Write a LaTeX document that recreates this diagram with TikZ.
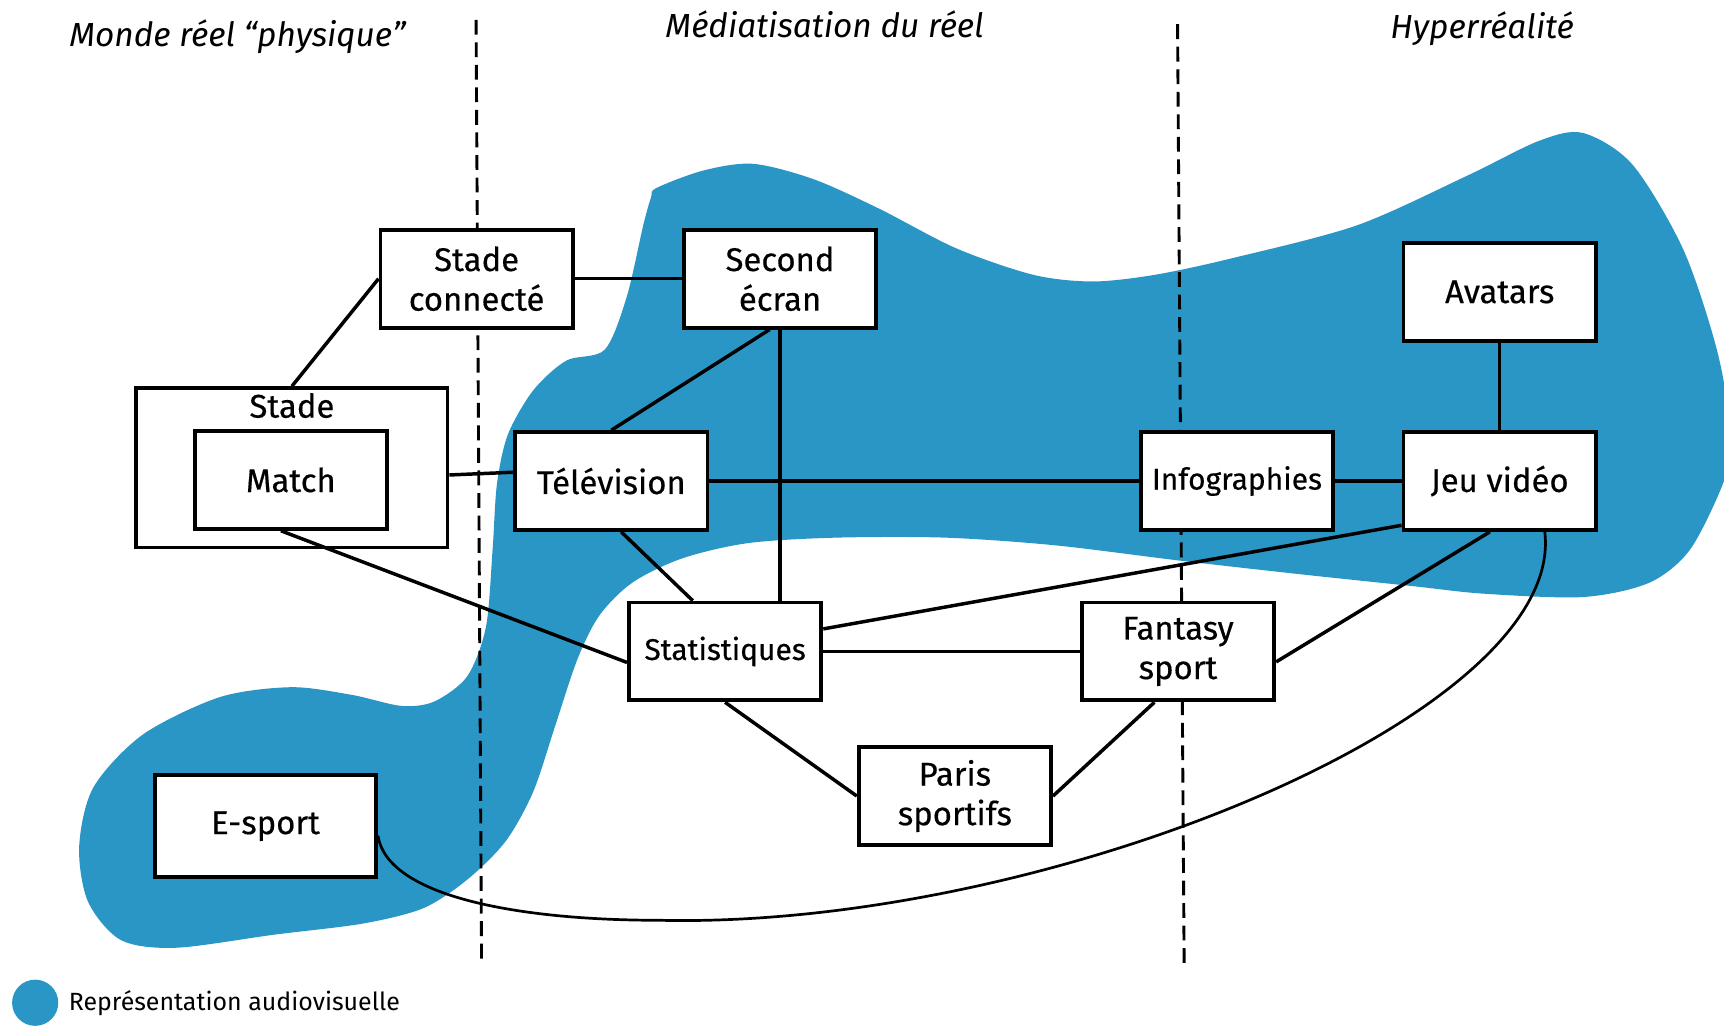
\documentclass[tikz,border=0pt]{standalone}
\usepackage{fontspec}
\setmainfont{Fira Sans}
\newfontfamily\boxfont{Fira Sans}[FakeBold=0.4]
\usepackage{tikz}
\usetikzlibrary{positioning}
\definecolor{audioblue}{RGB}{42,150,198}

\begin{document}
\begin{tikzpicture}[
        x=0.02cm, y=-0.02cm,
        box/.style={rectangle, draw, fill=white, line width=2pt, minimum width=3.5cm, minimum height=1.78cm, align=center, font=\boxfont\fontsize{17}{20.5}\selectfont},
        smallbox/.style={box, font=\boxfont\fontsize{15.5}{18}\selectfont},
        link/.style={draw, line width=1.8pt},
        zone/.style={font=\fontsize{17.3}{20}\selectfont\itshape},
        border/.style={draw, line width=1.5pt, dash pattern=on 0.27cm off 0.14cm}
    ]
        \useasboundingbox (0,0) rectangle (1568,933);

        % zone audiovisuelle
        \fill[audioblue] plot[smooth cycle, tension=0.5] coordinates {
            (597,171) (640,155) (685,149) (740,163) (800,190) (870,226) (940,250) (994,256)
            (1050,250) (1120,235) (1234,205) (1334,160) (1400,128) (1440,121) (1485,150)
            (1531,227) (1562,320) (1575,400) (1567,440) (1537,500) (1500,530) (1440,543)
            (1350,540) (1284,533) (1180,522) (1074,510) (960,496) (860,489) (760,489)
            (680,494) (620,508) (575,530) (545,560) (525,600) (505,660) (485,720) (460,765)
            (425,800) (385,826) (330,840) (250,850) (160,862) (110,855) (80,820) (72,770)
            (85,716) (130,668) (200,634) (265,625) (320,632) (365,642) (395,638) (425,615)
            (442,570) (448,500) (452,440) (462,395) (485,355) (515,328) (550,318) (570,270)
            (585,205) (592,180)};

        % separations
        \path[border] (433,18) -- (438,877);
        \path[border] (1071,22) -- (1077,878);

        \node[zone] (monde) at (216,33) {Monde réel “physique”};
        \node[zone] (media) at (750,22) {Médiatisation du réel};
        \node[zone] (hyper) at (1348,26) {Hyperréalité};

        \node[box] (sc) at (433.5,253.5) {Stade\\connecté};
        \node[box, right of=sc, node distance=5.52cm] (second) {Second\\écran};
        \node[box, minimum width=5.66cm, minimum height=2.9cm, label={[anchor=north, font=\boxfont\fontsize{17}{20}\selectfont]north:Stade}] (stade) at (265.5,425.5) {};
        \node[box] (match) at (264.5,436.5) {Match};
        \node[box] (tele) at (556,437.5) {Télévision};
        \node[box] (jeu) at (1364,437.5) {Jeu vidéo};
        \node[smallbox, left of=jeu, node distance=4.78cm] (info) {Infographies};
        \node[box, above of=jeu, node distance=3.44cm] (avatars) {Avatars};
        \node[smallbox] (stat) at (659.5,592.5) {Statistiques};
        \node[box, right of=stat, node distance=8.24cm] (fantasy) {Fantasy\\sport};
        \node[box] (paris) at (868.5,724) {Paris\\sportifs};
        \node[box, minimum width=4.02cm, minimum height=1.86cm] (esport) at (241.5,751.5) {E-sport};

        \path[link] (sc.west) -- (stade.north);
        \path[link] (sc.east) -- (second.west);
        \path[link] ([xshift=-0.19cm]second.south) -- (tele.north);
        \path[link] (second.south) -- (second.south |- stat.north);
        \path[link] ([yshift=-0.13cm]stade.east) -- ([yshift=0.16cm]tele.west);
        \path[link] (tele.east) -- (info.west);
        \path[link] (info.east) -- (jeu.west);
        \path[link] (avatars.south) -- (jeu.north);
        \path[link] ([xshift=-0.18cm]match.south) -- ([yshift=-0.2cm]stat.west);
        \path[link] ([xshift=0.18cm]tele.south) -- ([xshift=-0.59cm]stat.north);
        \path[link] ([yshift=0.41cm]stat.east) -- ([yshift=0.12cm]jeu.south west);
        \path[link] (stat.east) -- (fantasy.west);
        \path[link] ([yshift=-0.19cm]fantasy.east) -- ([xshift=-0.18cm]jeu.south);
        \path[link] (stat.south) -- (paris.west);
        \path[link] ([xshift=-0.43cm]fantasy.south) -- (paris.east);
        \path[link, line width=1.4pt] ([yshift=-0.17cm]esport.east) .. controls (352,815) and (470,837) .. (600,837)
            .. controls (950,845) and (1425,650) .. ([xshift=0.82cm]jeu.south);

        % legende
        \node[circle, fill=audioblue, minimum size=0.84cm, inner sep=0pt] (key) at (32,912) {};
        \node[right=0.06cm of key, font=\fontsize{12.9}{15}\selectfont] (keytext) {Représentation audiovisuelle};
\end{tikzpicture}
\end{document}
